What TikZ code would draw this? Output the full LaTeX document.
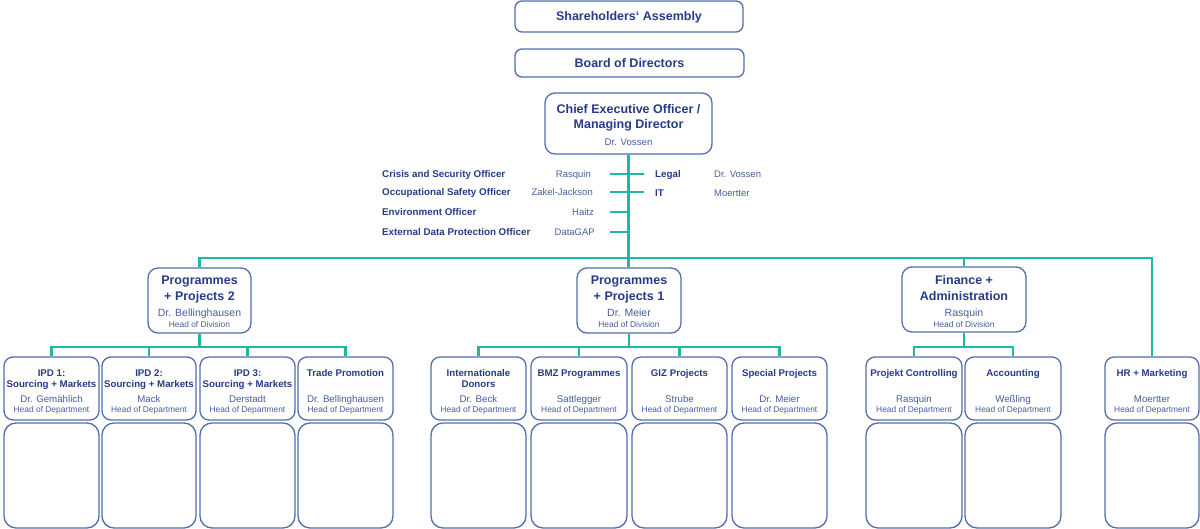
\documentclass[tikz,border=0pt]{standalone}
\usepackage{fontspec}
\setmainfont{Liberation Sans}
\usetikzlibrary{fit,backgrounds}
\definecolor{navy}{RGB}{38,60,136}
\definecolor{slate}{RGB}{70,94,158}
\definecolor{bord}{RGB}{82,110,172}
\definecolor{tealc}{RGB}{30,184,166}
\tikzset{
  box/.style={draw=bord, line width=1.3pt, fill=white, inner sep=0pt, rounded corners=9pt},
  conn/.style={draw=tealc, line width=2.2pt},
  bigttl/.style={anchor=base, inner sep=0pt, text=navy, font=\fontsize{12.5}{15}\selectfont\bfseries},
  lbl/.style={anchor=base, inner sep=0pt, text=navy, font=\fontsize{9.7}{11}\selectfont\bfseries},
  stf/.style={anchor=base west, inner sep=0pt, text=navy, font=\fontsize{9.8}{11}\selectfont\bfseries},
  stn/.style={inner sep=0pt, text=slate, font=\fontsize{9.5}{11}\selectfont},
  nm/.style={anchor=base, inner sep=0pt, text=slate, font=\fontsize{9.7}{11}\selectfont},
  dnm/.style={anchor=base, inner sep=0pt, text=slate, font=\fontsize{10.5}{12}\selectfont},
  hd/.style={anchor=base, inner sep=0pt, text=slate, font=\fontsize{8.4}{10}\selectfont},
}
\newcommand\deptbox[6]{%
  \node[box, fit={(#2,357)(#3,420)}] (#1) {};
  \node[lbl] (#1a) at (#1.north |- 0,376.5) {#4};
  \if\relax\detokenize{#5}\relax\else
  \node[lbl] (#1b) at (#1.north |- 0,387.5) {#5};\fi
  \node[nm] (#1c) at (#1.north |- 0,402.5) {#6};
  \node[hd] (#1d) at (#1.north |- 0,413) {Head of Department};
  \node[box, rounded corners=12pt, fit={(#2,423)(#3,528)}] (#1x) {};
}
\newcommand\divbox[7]{%
  \node[box, rounded corners=10pt, fit={(#2,#3)(#4,#3+65)}] (#1) {};
  \node[bigttl] (#1a) at (#1.north |- 0,285) {#5};
  \node[bigttl] (#1b) at (#1.north |- 0,300.5) {#6};
  \node[dnm] (#1c) at (#1.north |- 0,317) {#7};
  \node[hd] (#1d) at (#1.north |- 0,327.5) {Head of Division};
}
\begin{document}
\begin{tikzpicture}[x=1pt,y=-1pt]
\useasboundingbox (0,0) rectangle (1200,529);
% top
\node[box, rounded corners=7pt, fit={(515,1)(743,32)}] (sa) {};
\node[bigttl] (saT) at (sa.north |- 0,21) {Shareholders‘ Assembly};
\node[box, rounded corners=7pt, fit={(515,49)(744,77)}] (bd) {};
\node[bigttl] (bdT) at (bd.north |- 0,67.5) {Board of Directors};
\node[box, rounded corners=10pt, fit={(545,93)(712,154)}] (ceo) {};
\node[bigttl] (ceoA) at (ceo.north |- 0,113.5) {Chief Executive Officer /};
\node[bigttl] (ceoB) at (ceo.north |- 0,129) {Managing Director};
\node[nm] (ceoC) at (ceo.north |- 0,145.5) {Dr. Vossen};
% divisions
\divbox{pp2}{148}{268}{251}{Programmes}{+ Projects 2}{Dr. Bellinghausen}
\divbox{pp1}{577}{268}{681}{Programmes}{+ Projects 1}{Dr. Meier}
\divbox{fa}{902}{267}{1026}{Finance +}{Administration}{Rasquin}
% departments
\deptbox{ipa}{4}{99}{IPD 1:}{Sourcing + Markets}{Dr. Gemählich}
\deptbox{ipb}{102}{196}{IPD 2:}{Sourcing + Markets}{Mack}
\deptbox{ipc}{200}{295}{IPD 3:}{Sourcing + Markets}{Derstadt}
\deptbox{tpr}{298}{393}{Trade Promotion}{}{Dr. Bellinghausen}
\deptbox{ido}{431}{526}{Internationale}{Donors}{Dr. Beck}
\deptbox{bmz}{531}{627}{BMZ Programmes}{}{Sattlegger}
\deptbox{giz}{632}{727}{GIZ Projects}{}{Strube}
\deptbox{spp}{732}{827}{Special Projects}{}{Dr. Meier}
\deptbox{pco}{866}{962}{Projekt Controlling}{}{Rasquin}
\deptbox{acc}{965}{1061}{Accounting}{}{Weßling}
\deptbox{hrm}{1105}{1199}{HR + Marketing}{}{Moertter}
% staff
\node[stf] (s1) at (382,177.5) {Crisis and Security Officer};
\node[stn, anchor=base east] (s1n) at (591,177.5) {Rasquin};
\node[stf] (s2) at (382,195.5) {Occupational Safety Officer};
\node[stn, anchor=base east] (s2n) at (593,195.5) {Zakel-Jackson};
\node[stf] (s3) at (382,215.5) {Environment Officer};
\node[stn, anchor=base east] (s3n) at (594,215.5) {Haitz};
\node[stf] (s4) at (382,235.5) {External Data Protection Officer};
\node[stn, anchor=base east] (s4n) at (595,235.5) {DataGAP};
\node[stf] (r1) at (655,177.5) {Legal};
\node[stn, anchor=base west] (r1n) at (714,177.5) {Dr. Vossen};
\node[stf] (r2) at (655,196.5) {IT};
\node[stn, anchor=base west] (r2n) at (714,196.5) {Moertter};
% connectors
\begin{scope}[on background layer]
\coordinate (bus) at (628.5,258);
\coordinate (t1) at (610,174);
\coordinate (t2) at (610,192);
\coordinate (t3) at (610,212);
\coordinate (t4) at (610,232);
\coordinate (u1) at (644,174);
\coordinate (u2) at (644,192);
\draw[conn] (ceo.south) -- (ceo.south |- pp1.north);
\foreach \t in {t1,t2,t3,t4,u1,u2} \draw[conn] (\t) -- (\t -| ceo.south);
\draw[conn] (pp2.north) |- (bus) -| (hrm.north);
\draw[conn] (bus) -| (fa.north);
\coordinate (b2) at (0,347);
\draw[conn] (pp2.south) -- (pp2.south |- b2);
\draw[conn] (ipa.north) |- (tpr.north |- b2) -- (tpr.north);
\foreach \d in {ipb,ipc} \draw[conn] (\d.north) -- (\d.north |- b2);
\draw[conn] (pp1.south) -- (pp1.south |- b2);
\draw[conn] (ido.north) |- (spp.north |- b2) -- (spp.north);
\foreach \d in {bmz,giz} \draw[conn] (\d.north) -- (\d.north |- b2);
\draw[conn] (fa.south) -- (fa.south |- b2);
\draw[conn] (pco.north) |- (acc.north |- b2) -- (acc.north);
\end{scope}
\end{tikzpicture}
\end{document}
